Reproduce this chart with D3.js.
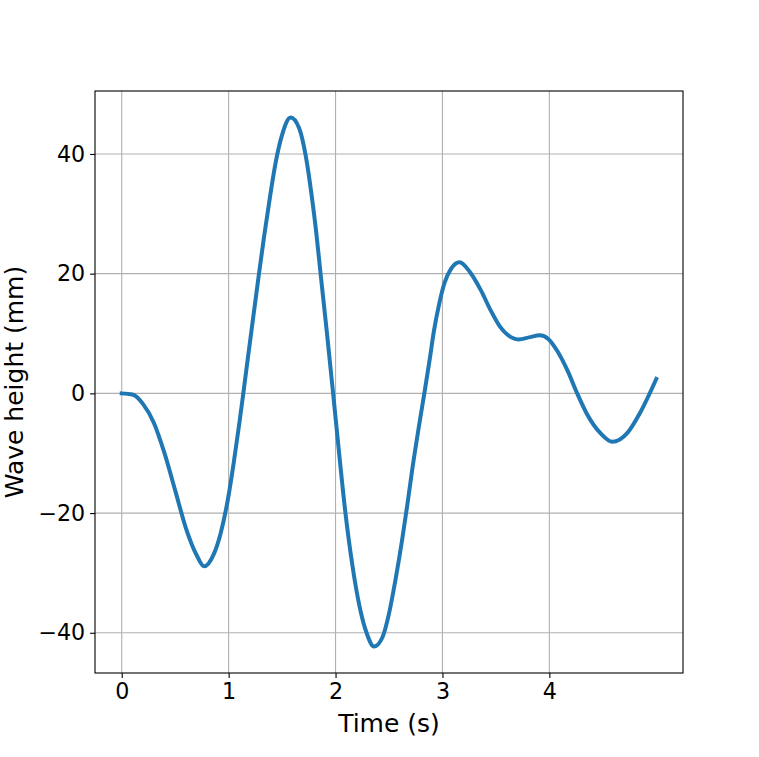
<!DOCTYPE html>
<html>
<head>
<meta charset="utf-8">
<script src="https://cdn.jsdelivr.net/npm/d3@7"></script>
<style>
  body { margin: 0; background: #fff; }
  text { font-family: "DejaVu Sans", sans-serif; fill: #000; }
</style>
</head>
<body>
<script>
// wave record
var times = [0, 0.1, 0.2, 0.3, 0.4, 0.5, 0.6, 0.7, 0.77, 0.86, 0.925, 1.0,
  1.05, 1.1, 1.14, 1.18, 1.23, 1.28, 1.33, 1.39, 1.44, 1.5, 1.58, 1.66,
  1.72, 1.78, 1.82, 1.86, 1.92, 1.975, 2.03, 2.09, 2.16, 2.22, 2.29, 2.36,
  2.44, 2.5, 2.56, 2.62, 2.67, 2.72, 2.78, 2.835, 2.88, 2.92, 2.97, 3.02,
  3.08, 3.16, 3.26, 3.36, 3.45, 3.54, 3.64, 3.71, 3.82, 3.91, 3.99, 4.07,
  4.17, 4.26, 4.35, 4.48, 4.59, 4.73, 4.85, 5.0];
var heights = [0, -0.2, -1.8, -4.9, -10.0, -16.2, -22.5, -27.0, -28.9, -26.9,
  -23.4, -17.0, -11.3, -5.0, 0.4, 5.9, 12.7, 19.5, 26.0, 33.2, 38.6, 43.2,
  46.1, 44.3, 39.8, 32.6, 26.8, 20.0, 10.0, 0.4, -9.4, -19.6, -29.0, -35.2,
  -40.0, -42.3, -40.7, -36.8, -31.2, -24.8, -18.8, -12.4, -5.5, 0.5, 5.6,
  10.4, 15.0, 18.5, 20.8, 21.9, 20.2, 17.2, 13.9, 11.1, 9.4, 9.0, 9.4, 9.7,
  9.1, 7.2, 3.8, 0, -3.4, -6.7, -8.1, -6.6, -3.2, 2.4];
var xTicks = [0, 1, 2, 3, 4];
var yTicks = [-40, -20, 0, 20, 40];

var canvasX = 759;
var canvasY = 757;
var plotLeft = 95, plotRight = 683, plotTop = 91, plotBottom = 673;
var tickFont = "22.2px";
var labelFont = "25px";

var svg = d3.select("body")
            .append("svg")
            .attr("width", canvasX)
            .attr("height", canvasY);

// matplotlib style 5% margins
var xMin = d3.min(times), xMax = d3.max(times);
var yMin = d3.min(heights), yMax = d3.max(heights);
var xPad = (xMax - xMin) * 0.05, yPad = (yMax - yMin) * 0.05;

var scaleX = d3.scaleLinear()
               .domain([xMin - xPad, xMax + xPad])
               .range([plotLeft, plotRight]);
var scaleY = d3.scaleLinear()
               .domain([yMin - yPad, yMax + yPad])
               .range([plotBottom, plotTop]);

// grid
svg.append("g").selectAll("line")
    .data(xTicks).enter().append("line")
    .attr("x1", function(d) { return scaleX(d); })
    .attr("x2", function(d) { return scaleX(d); })
    .attr("y1", plotTop).attr("y2", plotBottom)
    .attr("stroke", "#b0b0b0").attr("stroke-width", 1.1);
svg.append("g").selectAll("line")
    .data(yTicks).enter().append("line")
    .attr("y1", function(d) { return scaleY(d); })
    .attr("y2", function(d) { return scaleY(d); })
    .attr("x1", plotLeft).attr("x2", plotRight)
    .attr("stroke", "#b0b0b0").attr("stroke-width", 1.1);

// the wave
var pts = times.map(function(t, i) { return [t, heights[i]]; });
var line = d3.line()
    .x(function(d) { return scaleX(d[0]); })
    .y(function(d) { return scaleY(d[1]); })
    .curve(d3.curveMonotoneX);
svg.append("path")
    .attr("d", line(pts))
    .attr("fill", "none")
    .attr("stroke", "#1f77b4")
    .attr("stroke-width", 4)
    .attr("stroke-linecap", "square");

// axes
var xAxis = d3.axisBottom(scaleX).tickValues(xTicks)
    .tickSize(4.9).tickPadding(4.9)
    .tickFormat(function(d) { return String(d); });
var yAxis = d3.axisLeft(scaleY).tickValues(yTicks)
    .tickSize(4.9).tickPadding(4.9)
    .tickFormat(function(d) { return d < 0 ? "\u2212" + Math.abs(d) : String(d); });

var gx = svg.append("g")
    .attr("transform", "translate(0," + plotBottom + ")")
    .call(xAxis);
var gy = svg.append("g")
    .attr("transform", "translate(" + plotLeft + ",0)")
    .call(yAxis);
[gx, gy].forEach(function(g) {
  g.select(".domain").remove();
  g.selectAll("line").attr("stroke", "#000").attr("stroke-width", 1.1);
  g.selectAll("text").attr("font-size", tickFont)
   .attr("font-family", "DejaVu Sans, sans-serif").attr("fill", "#000");
});

// frame
svg.append("rect")
    .attr("x", plotLeft).attr("y", plotTop)
    .attr("width", plotRight - plotLeft).attr("height", plotBottom - plotTop)
    .attr("fill", "none").attr("stroke", "#000").attr("stroke-width", 1.1);

// labels
svg.append("text")
    .attr("x", (plotLeft + plotRight) / 2)
    .attr("y", 732)
    .attr("text-anchor", "middle")
    .attr("font-size", labelFont)
    .text("Time (s)");
svg.append("text")
    .attr("transform", "translate(23," + ((plotTop + plotBottom) / 2) + ") rotate(-90)")
    .attr("text-anchor", "middle")
    .attr("font-size", labelFont)
    .text("Wave height (mm)");
</script>
</body>
</html>
